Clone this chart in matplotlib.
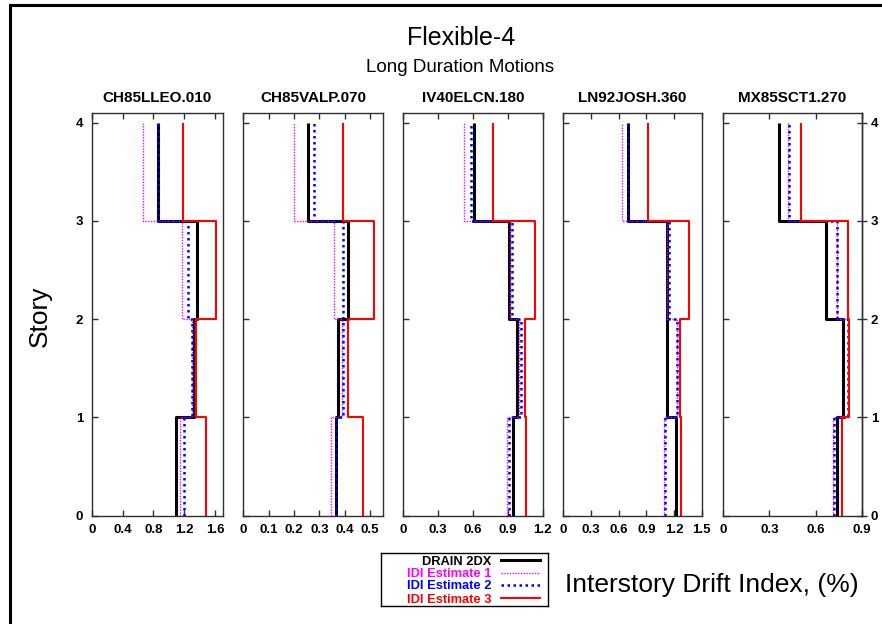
import numpy as np
import matplotlib
matplotlib.use("Agg")
import matplotlib.pyplot as plt
from matplotlib.lines import Line2D

plt.rcParams['font.family'] = ['Liberation Sans', 'DejaVu Sans']

# Ground-motion records (one panel each)
records = ["CH85LLEO.010", "CH85VALP.070", "IV40ELCN.180", "LN92JOSH.360", "MX85SCT1.270"]

# Interstory drift index (%) for stories 1..4, one row per record
drain_2dx = [
    [1.10, 1.327, 1.37, 0.857],
    [0.366, 0.372, 0.412, 0.254],
    [0.945, 0.983, 0.911, 0.607],
    [1.219, 1.121, 1.128, 0.705],
    [0.739, 0.780, 0.666, 0.364],
]
idi_est1 = [
    [1.14, 1.296, 1.175, 0.66],
    [0.346, 0.391, 0.358, 0.201],
    [0.894, 0.997, 0.92, 0.522],
    [1.092, 1.237, 1.128, 0.633],
    [0.715, 0.813, 0.737, 0.419],
]
idi_est2 = [
    [1.196, 1.30, 1.253, 0.857],
    [0.367, 0.392, 0.392, 0.279],
    [0.906, 1.009, 0.94, 0.579],
    [1.106, 1.23, 1.146, 0.698],
    [0.72, 0.809, 0.741, 0.429],
]
idi_est3 = [
    [1.488, 1.357, 1.61, 1.188],
    [0.474, 0.412, 0.517, 0.392],
    [1.06, 1.046, 1.131, 0.773],
    [1.276, 1.265, 1.363, 0.915],
    [0.77, 0.817, 0.813, 0.505],
]

# x-axis limits and tick labels per panel
x_max = [1.7, 0.55, 1.2, 1.5, 0.9]
x_ticks = [
    [0, 0.4, 0.8, 1.2, 1.6],
    [0, 0.1, 0.2, 0.3, 0.4, 0.5],
    [0, 0.3, 0.6, 0.9, 1.2],
    [0, 0.3, 0.6, 0.9, 1.2, 1.5],
    [0, 0.3, 0.6, 0.9],
]
x_tick_labels = [
    ["0", "0.4", "0.8", "1.2", "1.6"],
    ["0", "0.1", "0.2", "0.3", "0.4", "0.5"],
    ["0", "0.3", "0.6", "0.9", "1.2"],
    ["0", "0.3", "0.6", "0.9", "1.2", "1.5"],
    ["0", "0.3", "0.6", "0.9"],
]
story_levels = [0, 1, 2, 3, 4]
story_labels = ["0", "1", "2", "3", "4"]

series = [
    ("DRAIN 2DX", drain_2dx, dict(color="black", lw=2.2, ls="-")),
    ("IDI Estimate 1", idi_est1, dict(color="#ff00ff", lw=1.0, ls=(0, (1, 1)))),
    ("IDI Estimate 2", idi_est2, dict(color="#0000ff", lw=1.8, ls=(0, (1, 1.4)))),
    ("IDI Estimate 3", idi_est3, dict(color="#ff0000", lw=1.5, ls="-")),
]

W, H = 882, 624
fig = plt.figure(figsize=(W / 100, H / 100), dpi=100)

# panel frame extents in pixels (left, right); shared top/bottom
panel_px = [(91.7, 222.7), (243.3, 382.7), (403.3, 542.7), (563.3, 701.7), (723.3, 861.7)]
top_px, bot_px = 112.7, 515.7

frame_col = "#303030"
tick_font = dict(fontsize=9.5, fontweight="bold")


def px_rect(x0, y0, x1, y1):
    """Pixel box (top-left origin) to figure-fraction rect."""
    return [x0 / W, 1 - y1 / H, (x1 - x0) / W, (y1 - y0) / H]


def step_profile(values):
    """Story-wise constant drift as a vertical step outline."""
    v = np.asarray(values, dtype=float)
    xs = np.repeat(v, 2)
    ys = np.repeat(np.asarray(story_levels, dtype=float), 2)[1:-1]
    return xs, ys


for i, rec in enumerate(records):
    l, r = panel_px[i]
    ax = fig.add_axes(px_rect(l, top_px, r, bot_px))
    for name, data, style in series:
        xs, ys = step_profile(data[i])
        ax.plot(xs, ys, solid_capstyle="butt", dash_capstyle="butt", **style)
    ax.set_xlim(0, x_max[i])
    ax.set_ylim(0, 4.1)
    ax.set_xticks(x_ticks[i])
    ax.set_xticklabels(x_tick_labels[i], **tick_font)
    ax.set_yticks(story_levels)
    ax.tick_params(axis="x", direction="in", length=4.5, width=1.0, color=frame_col,
                   top=True, pad=6)
    ax.tick_params(axis="y", direction="in", length=4.5, width=1.0, color=frame_col, pad=6)
    if i == 0:
        ax.set_yticklabels(story_labels, **tick_font)
    else:
        ax.set_yticklabels([])
    if i == len(records) - 1:
        sec = ax.secondary_yaxis("right")
        sec.set_yticks(story_levels)
        sec.set_yticklabels(story_labels, **tick_font)
        sec.tick_params(direction="inout", length=7, width=1.0, color=frame_col, pad=3)
        sec.spines["right"].set_color(frame_col)
        sec.spines["right"].set_linewidth(1.0)
    for sp in ax.spines.values():
        sp.set_color(frame_col)
        sp.set_linewidth(1.0)
    ax.set_title(rec, fontsize=11, fontweight="bold", pad=7.5)

# titles and axis labels
fig.text(461 / W, 1 - 38 / H, "Flexible-4", ha="center", va="center", fontsize=18)
fig.text(460 / W, 1 - 67 / H, "Long Duration Motions", ha="center", va="center", fontsize=13.5)
fig.text(40 / W, 1 - 316 / H, "Story", ha="center", va="center", rotation=90, fontsize=19)
fig.text(712 / W, 1 - 585 / H, "Interstory Drift Index, (%)", ha="center", va="center",
         fontsize=19)

# key box: right-aligned coloured labels followed by line samples
key = fig.add_axes(px_rect(381, 552.7, 547.7, 605.7))
key.set_xlim(0, 1)
key.set_ylim(0, 1)
key.set_xticks([])
key.set_yticks([])
for sp in key.spines.values():
    sp.set_color("black")
    sp.set_linewidth(1.0)
row_y = [0.862, 0.623, 0.391, 0.140]
for (name, _, style), y in zip(series, row_y):
    key.text(0.664, y, name, ha="right", va="center_baseline", color=style["color"],
             fontsize=9.3, fontweight="bold")
    key.add_line(Line2D([0.72, 0.954], [y, y], **style))

# outer border lines
fig.add_artist(Line2D([10 / W, 10 / W], [0, 1 - 5 / H], transform=fig.transFigure,
                      color="black", lw=2.2))
fig.add_artist(Line2D([10 / W, 1], [1 - 5 / H, 1 - 5 / H], transform=fig.transFigure,
                      color="black", lw=2.2))

fig.savefig("out.png", dpi=100)
